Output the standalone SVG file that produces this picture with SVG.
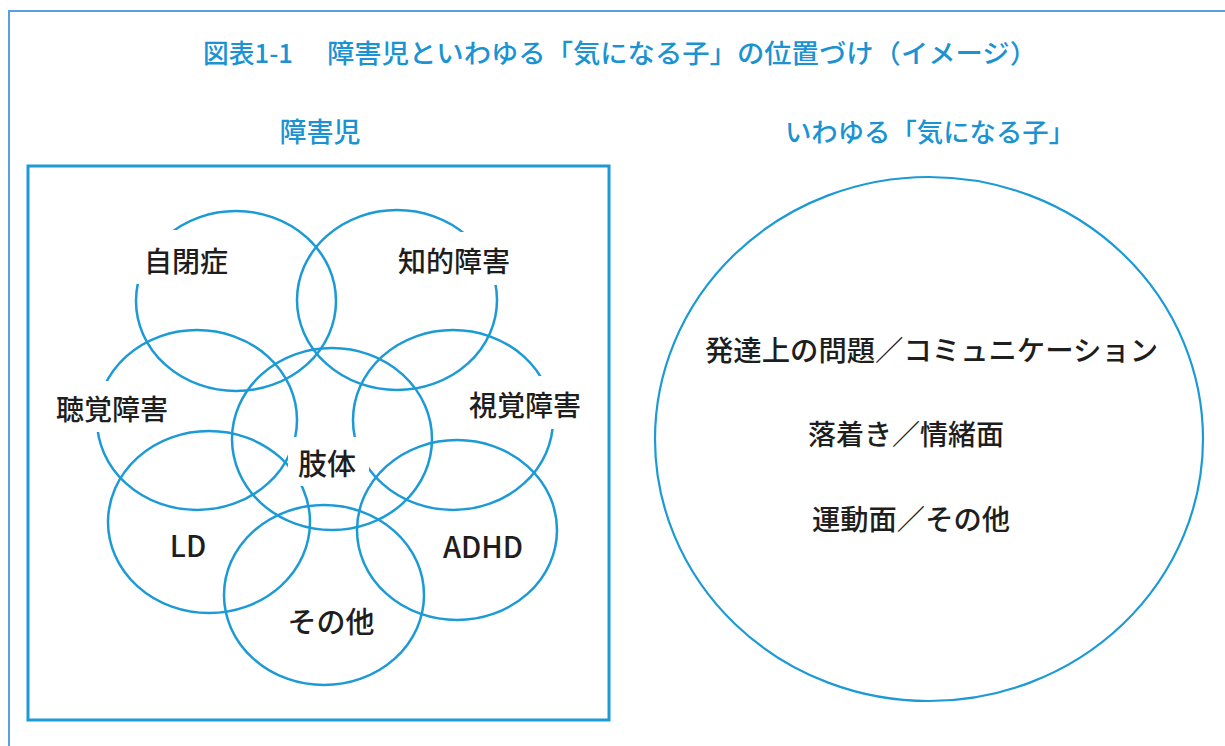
<svg xmlns="http://www.w3.org/2000/svg" width="1225" height="746" viewBox="0 0 1225 746">
<style>
.frame{fill:none;stroke:#5c9fe0;stroke-width:2}
.box{fill:none;stroke:#1c9ad6;stroke-width:3}
.c{fill:none;stroke:#1c9ad6;stroke-width:2.5}
.big{fill:none;stroke:#1c9ad6;stroke-width:2.2}
.ttl{font-family:"Noto Sans CJK JP","Noto Sans",sans-serif;font-weight:500;fill:#1b93d2;dominant-baseline:central}
.lbl{font-family:"Noto Sans CJK JP","Noto Sans",sans-serif;font-weight:500;fill:#1e1e1e;dominant-baseline:central}
.ko{fill:#ffffff}
</style>
<rect width="1225" height="746" fill="#ffffff"/>
<rect class="frame" x="9" y="11" width="1230" height="750"/>
<g id="title">
<text class="ttl" x="203" y="51" font-size="26" textLength="90" lengthAdjust="spacingAndGlyphs">図表1-1</text>
<text class="ttl" x="327" y="51" font-size="26" textLength="710" lengthAdjust="spacingAndGlyphs">障害児といわゆる「気になる子」の位置づけ（イメージ）</text>
</g>
<g id="heading-left"><text class="ttl" x="320" y="130" font-size="27" text-anchor="middle">障害児</text></g>
<g id="heading-right"><text class="ttl" x="785" y="130" font-size="26" textLength="290" lengthAdjust="spacingAndGlyphs">いわゆる「気になる子」</text></g>
<g id="disabled-box"><rect class="box" x="28" y="166" width="581" height="554"/></g>
<g id="circles">
<ellipse id="c-autism" class="c" cx="236" cy="301" rx="100" ry="90"/>
<ellipse id="c-intellectual" class="c" cx="397" cy="300" rx="100" ry="90"/>
<ellipse id="c-hearing" class="c" cx="197" cy="420" rx="100" ry="90"/>
<ellipse id="c-visual" class="c" cx="453" cy="420" rx="100" ry="90"/>
<ellipse id="c-physical" class="c" cx="332" cy="439" rx="100" ry="91"/>
<ellipse id="c-ld" class="c" cx="209" cy="522" rx="101" ry="91"/>
<ellipse id="c-adhd" class="c" cx="457" cy="530" rx="100" ry="90"/>
<ellipse id="c-other" class="c" cx="324" cy="595" rx="100" ry="90"/>
</g>
<g id="n-autism"><rect class="ko" x="133" y="230" width="107" height="54"/><text class="lbl" x="186" y="260" font-size="28" text-anchor="middle">自閉症</text></g>
<g id="n-intellectual"><rect class="ko" x="387" y="232" width="135" height="53"/><text class="lbl" x="454" y="260" font-size="28" text-anchor="middle">知的障害</text></g>
<g id="n-hearing"><rect class="ko" x="45" y="381" width="135" height="51"/><text class="lbl" x="112" y="408" font-size="28" text-anchor="middle">聴覚障害</text></g>
<g id="n-visual"><rect class="ko" x="459" y="376" width="132" height="53"/><text class="lbl" x="525" y="404" font-size="28" text-anchor="middle">視覚障害</text></g>
<g id="n-physical"><rect class="ko" x="288" y="437" width="81" height="49"/><text class="lbl" x="327" y="462" font-size="29" text-anchor="middle">肢体</text></g>
<g id="n-ld"><text class="lbl" x="188" y="544" font-size="29" text-anchor="middle">LD</text></g>
<g id="n-adhd"><text class="lbl" x="483" y="545" font-size="29" text-anchor="middle">ADHD</text></g>
<g id="n-other"><text class="lbl" x="331" y="620" font-size="29" text-anchor="middle">その他</text></g>
<g id="concern-circle">
<ellipse class="big" cx="929" cy="439" rx="274" ry="262"/>
<text class="lbl" x="705" y="349" font-size="28" textLength="453" lengthAdjust="spacingAndGlyphs">発達上の問題／コミュニケーション</text>
<text class="lbl" x="808" y="433" font-size="28" textLength="196" lengthAdjust="spacingAndGlyphs">落着き／情緒面</text>
<text class="lbl" x="812" y="518" font-size="28" textLength="198" lengthAdjust="spacingAndGlyphs">運動面／その他</text>
</g>
<g id="connectors"></g>
</svg>
